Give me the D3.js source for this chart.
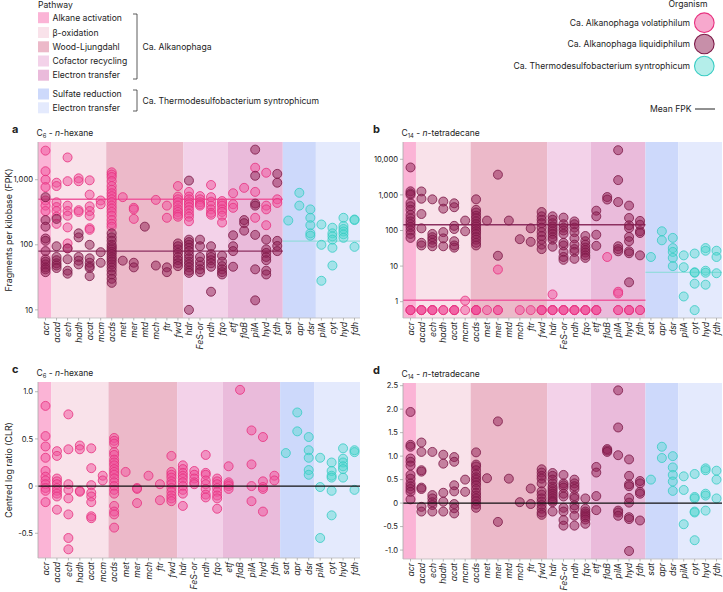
<!DOCTYPE html>
<html>
<head>
<meta charset="utf-8">
<script src="https://cdn.jsdelivr.net/npm/d3@7"></script>
<style>
  body { margin: 0; background: #fff; }
  text { font-family: Inter, "Noto Sans", sans-serif; fill: #222; }
</style>
</head>
<body>
<svg id="chart" width="723" height="592"></svg>
<script>
// ---- categories ----
const alkGenes = ["acr","acad","ech","hadh","acat","mcm","acds","met","mer","mtd","mch","ftr","fwd","hdr","FeS-or","ndh","fqo","etf","flaB","pilA","hyd","fdh"];
const alkPathway = [0,1,1,1,1,1,2,2,2,2,2,2,2,3,3,3,3,4,4,4,4,4];
const thermoGenes = ["sat","apr","dsr","pilA","cyt","hyd","fdh"];
const thermoPathway = [5,5,5,6,6,6,6];
const pathwayNames = ["Alkane activation","β-oxidation","Wood-Ljungdahl","Cofactor recycling","Electron transfer","Sulfate reduction","Electron transfer"];
const pathwayColors = ["#fbb4d6","#f9e2ea","#ecb9c9","#f3d2e9","#eabbdb","#cdd9fb","#e4eafd"];

const organisms = ["Ca. Alkanophaga volatiphilum","Ca. Alkanophaga liquidiphilum","Ca. Thermodesulfobacterium syntrophicum"];
const orgFill = ["#f0519b","#8f1f54","#4dd6ce"];
const orgStroke = ["#e8317f","#7d1a48","#38ccc3"];

// ---- panel a: FPK, n-hexane ----
const hexVol = [
  [2800,1350,1000,770,480,400,330],[900,800,450,380,330,270,210],[2200,950,400,330,280,185,105,88],
  [1050,950,340,320],[980,590,390,330,280,180,170],[480,420],
  [1300,1200,1100,950,800,700,620,560,500,450,400,360,320,280,240,210,190],[540],[370,350,250],[],[490],[400,260],
  [800,550,500,450,400,350,320,290,270],[650,550,500,450,420,380,340,300,270,230],[560,500,450,420,400],
  [830,540,460,400,350,310,290],[470,430,400,350,320,280,220],[620,420,370],[750],[1530,650,260],
  [1280,400,350,200],[500,440]
];
const hexLiq = [
  [540,240,190,125,115,80,60,55,50,45,42,38],[250,95,65,58,52,48,44],[88,60,40,36],[150,130,65,57,50],
  [100,62,53,47,44,33],[77,53],[150,130,115,100,92,85,78,72,65,60,55,50,45,40,35,30,26],[57],[53,45],[190],[48],[45,38],
  [105,95,85,75,65,58,52,47],[970,120,110,100,90,80,70,62,55,50,45,40,37,10],[120,95,65,55,48,42,38],
  [95,72,65,58,52,46,19],[68,55,47,42,38,35],[140,95,80,46],[240,215,165],[2900,1150,430,400,142,42,14],
  [120,85,75,65,58,40,35],[1230,900,115,96,80]
];
const hexThermo = [[236],[630,400],[350,260,200,150,138],[205,100,28],[183,150,135,120,90,48],[260,195,175,160,145,128],[245,240,93]];
const hexMeans = [500, 80, 114];

// ---- panel b: FPK, n-tetradecane (0 = not detected) ----
const tetVol = [
  [0,0,0],[0,0,0],[0,0,0],[0,0],[0,0,0],[1.07,0],[0,0,0,0],[0],[8,0,0],[],[0],[0],[0,0,0],[1.6,0,0,0],
  [0,0,0],[0,0,0],[0,0,0],[0,0,0],[18],[1.9,1.7,0,0],[0,0,0],[0,0]
];
const tetLiq = [
  [5900,1260,1100,1000,590,480,380,275,220,180,150,125,100,80,62],[1250,780,290,115,45,38],[750,80,65,55,45,36],
  [650,410,90,60,36],[580,450,135,110,50,38,33],[190,95],[750,380,320,260,220,180,150,130,110,95,80,65,55,45,38],
  [190],[3700,19.5],[190],[57],[115,48],[330,250,200,160,120,90,70,55,40,30],[250,200,160,130,110,95,80,65,55,35],
  [230,150,120,100,80,45,38,25,18,15],[180,150,120,90,60,40,30,25,16],[70,50,40,33,28,24,20,17],[360,250,76,37],
  [870,740],[18000,2600,630,36,30,26],[500,225,140,117,66,50,26,23,3.5],[186,145,95,85,20]
];
const tetThermo = [[18],[95,53],[62,32,25,17,10],[20,9.3,1.4],[22.5,6.7,6.5,3.2,0],[32,27,7.4,6.5,3],[27,18,6.3]];
const tetMeans = [1.1, 145, 6.7];

// ---- panel c: CLR, n-hexane (volatiphilum) ----
const clrHexVol = [
  [0.85,0.53,0.42,0.30,0.16,0.10,0.06,0.02,-0.02,-0.05,-0.17],[0.37,0.32,0.08,0.05,0.02,-0.02,-0.05,-0.08,-0.11,-0.25],
  [0.76,0.39,0.02,-0.04,-0.13,-0.30,-0.55,-0.67],[0.43,0.39,-0.05,-0.06],[0.40,0.19,0.01,-0.07,-0.11,-0.17,-0.32,-0.34],
  [0.11,0.06],[0.51,0.48,0.45,0.36,0.33,0.28,0.25,0.22,0.18,0.15,0.12,0.08,0.04,0.0,-0.04,-0.08,-0.21,-0.27,-0.30,-0.44],
  [0.15],[-0.02,-0.03,-0.18],[],[0.11],[0.02,-0.15],[0.32,0.15,0.12,0.09,0.05,0.02,-0.02,-0.06,-0.10,-0.13,-0.16],
  [0.22,0.18,0.14,0.11,0.08,0.04,0.0,-0.04,-0.08,-0.21],[0.16,0.12,0.08,0.04,0.02],[0.33,0.14,0.12,0.06,0.02,-0.03,-0.09,-0.12],
  [0.08,0.05,0.02,-0.02,-0.06,-0.10,-0.13,-0.24],[0.21,0.04,0.02,0.0,-0.03],[1.02],[0.59,0.23,0.0,-0.16],
  [0.52,0.05,-0.01,-0.03,-0.27],[0.11,0.06]
];
const clrHexThermo = [[0.35],[0.78,0.58],[0.52,0.38,0.30,0.17,0.12],[0.30,-0.01,-0.55],[0.25,0.16,0.11,0.09,-0.05,-0.31],[0.40,0.29,0.25,0.21,0.18,0.09],[0.38,0.36,-0.04]];

// ---- panel d: CLR, n-tetradecane (liquidiphilum) ----
const clrTetLiq = [
  [1.94,1.24,1.20,0.95,0.88,0.80,0.60,0.52,0.42,0.36,0.30,0.24,0.08],[1.29,1.09,0.70,0.67,0.33,0.30,-0.08,-0.18],
  [1.09,0.17,0.10,0.02,-0.04,-0.18],[1.03,0.84,0.22,0.03,-0.18],[0.98,0.88,0.38,0.25,-0.02,-0.11,-0.22],[0.50,0.24],
  [1.08,0.82,0.78,0.70,0.62,0.55,0.50,0.44,0.38,0.30,0.22,0.16,0.10,0.04,-0.03,-0.10],[0.53],[1.74,-0.40],[0.52],[0.02],
  [0.31,-0.02],[0.72,0.65,0.58,0.52,0.42,0.25,0.18,0.10,0.03,-0.04,-0.12,-0.20,-0.25],
  [0.64,0.58,0.50,0.42,0.35,0.30,0.25,0.20,0.15,0.10,0.05,0.02,-0.18],[0.60,0.42,0.38,0.33,0.20,0.14,-0.10,-0.18,-0.36,-0.48],
  [0.50,0.42,0.36,0.30,0.15,0.10,-0.05,-0.12,-0.27,-0.48],[0.10,-0.12,-0.18,-0.22,-0.26,-0.30,-0.35,-0.44],
  [0.77,0.65,0.15,-0.15],[1.15,1.12,1.09],[2.40,1.61,1.02,-0.16,-0.20,-0.27],[0.93,0.58,0.40,0.36,0.11,0.01,-0.30,-0.34,-1.02],
  [0.47,0.42,0.24,0.20,-0.37]
];
const clrTetThermo = [[0.50],[1.20,0.96],[1.00,0.76,0.60,0.46,0.26],[0.57,0.28,-0.45],[0.62,0.13,0.10,-0.18,-0.20,-0.79],[0.74,0.70,0.20,0.16,-0.16],[0.69,0.50,0.10]];

const svg = d3.select("#chart");
const R = 4.5;

function drawPanel(cfg) {
  const g = svg.append("g");
  // categories
  let cats = alkGenes.map((gn, i) => ({key: "A" + i, gene: gn, pw: alkPathway[i]}));
  if (cfg.dropMtd) cats = cats.filter(c => c.gene !== "mtd");
  cats = cats.concat(thermoGenes.map((gn, i) => ({key: "T" + i, gene: gn, pw: thermoPathway[i]})));

  const x = d3.scalePoint().domain(cats.map(c => c.key)).range([cfg.x0 + 7.5, cfg.x1 - 5.5]);
  const step = x.step();
  const y = cfg.log
    ? d3.scaleLog().domain(cfg.domain).range([cfg.y1, cfg.y0])
    : d3.scaleLinear().domain(cfg.domain).range([cfg.y1, cfg.y0]);
  const yv = v => (cfg.log && v <= 0) ? y(cfg.zeroAt) : y(v);

  // pathway bands
  d3.groups(cats, c => c.pw).forEach(([pw, list]) => {
    const first = list[0], last = list[list.length - 1];
    const xs = first === cats[0] ? cfg.x0 : x(first.key) - step / 2;
    const xe = last === cats[cats.length - 1] ? cfg.x1 : x(last.key) + step / 2;
    g.append("rect").attr("x", xs).attr("y", cfg.y0).attr("width", xe - xs).attr("height", cfg.y1 - cfg.y0)
      .attr("fill", pathwayColors[pw]);
  });
  const split = x("T0") - step / 2;

  // mean lines
  if (cfg.means) {
    const spans = [[cfg.x0, split], [cfg.x0, split], [split, cfg.x1]];
    const lw = [1.6, 1.3, 1];
    const lc = ["#ee5a9e", "#8c3060", "#86dcd6"];
    cfg.means.forEach((m, i) => {
      g.append("line").attr("x1", spans[i][0]).attr("x2", spans[i][1])
        .attr("y1", y(m)).attr("y2", y(m)).attr("stroke", lc[i]).attr("stroke-width", lw[i]);
    });
  }

  // points
  const pts = [];
  cfg.series.forEach(s => {
    s.values.forEach((vals, i) => {
      const key = (s.alk ? "A" : "T") + i;
      if (x(key) === undefined) return;
      vals.forEach(v => pts.push({key, v, org: s.org}));
    });
  });
  g.selectAll("circle.pt").data(pts).enter().append("circle")
    .attr("class", "pt")
    .attr("cx", d => x(d.key)).attr("cy", d => yv(d.v)).attr("r", R)
    .attr("fill", d => orgFill[d.org]).attr("fill-opacity", d => d.org === 2 ? 0.42 : 0.5)
    .attr("stroke", d => orgStroke[d.org]).attr("stroke-width", 0.9).attr("stroke-opacity", 0.9);

  if (!cfg.log) {
    g.append("line").attr("x1", cfg.x0).attr("x2", cfg.x1).attr("y1", y(0)).attr("y2", y(0))
      .attr("stroke", "#111").attr("stroke-width", 1.1);
  }

  // y axis
  g.append("line").attr("x1", cfg.x0).attr("x2", cfg.x0).attr("y1", cfg.y0).attr("y2", cfg.y1)
    .attr("stroke", "#aaa").attr("stroke-width", 0.8);
  cfg.ticks.forEach(t => {
    g.append("line").attr("x1", cfg.x0 - 3).attr("x2", cfg.x0).attr("y1", y(t)).attr("y2", y(t))
      .attr("stroke", "#999").attr("stroke-width", 0.7);
    g.append("text").attr("x", cfg.x0 - 5).attr("y", y(t)).attr("dy", "0.35em")
      .attr("text-anchor", "end").attr("font-size", 7.6).text(cfg.fmt(t));
  });

  // x axis
  g.append("line").attr("x1", cfg.x0).attr("x2", cfg.x1).attr("y1", cfg.y1).attr("y2", cfg.y1)
    .attr("stroke", "#bbb").attr("stroke-width", 0.8);
  cats.forEach(c => {
    g.append("line").attr("x1", x(c.key)).attr("x2", x(c.key)).attr("y1", cfg.y1).attr("y2", cfg.y1 + 2.5)
      .attr("stroke", "#999").attr("stroke-width", 0.7);
    g.append("text").attr("transform", `translate(${x(c.key) + 3.2},${cfg.y1 + 4}) rotate(-90)`)
      .attr("text-anchor", "end").attr("font-size", 8.6).attr("font-style", "italic").text(c.gene);
  });

  // titles
  g.append("text").attr("x", cfg.letterX).attr("y", cfg.y0 - 9).attr("font-size", 11).attr("font-weight", 700)
    .text(cfg.letter);
  const st = g.append("text").attr("x", cfg.x0 - 1.5).attr("y", cfg.y0 - 6).attr("font-size", 8.5);
  st.append("tspan").text("C");
  st.append("tspan").attr("font-size", 5.8).attr("dy", 2).text(cfg.carbon);
  st.append("tspan").attr("dy", -2).text(" - ");
  st.append("tspan").attr("font-style", "italic").text("n");
  st.append("tspan").text("-" + cfg.alkane);

  if (cfg.yLabel) {
    g.append("text").attr("transform", `translate(12,${(cfg.y0 + cfg.y1) / 2}) rotate(-90)`)
      .attr("text-anchor", "middle").attr("font-size", 8.8).text(cfg.yLabel);
  }
}

const fmtLog = d3.format(",");
const fmtLin = v => v === 0 ? "0" : v.toFixed(1);

drawPanel({x0: 38, x1: 360, y0: 142, y1: 318, letter: "a", letterX: 12, carbon: "6", alkane: "hexane",
  log: true, domain: [7.5, 3800], ticks: [10, 100, 1000], fmt: fmtLog, yLabel: "Fragments per kilobase (FPK)",
  means: hexMeans,
  series: [{org: 0, alk: true, values: hexVol}, {org: 1, alk: true, values: hexLiq}, {org: 2, alk: false, values: hexThermo}]});

drawPanel({x0: 403, x1: 722, y0: 142, y1: 318, letter: "b", letterX: 373, carbon: "14", alkane: "tetradecane",
  log: true, domain: [0.348, 30600], zeroAt: 0.58, ticks: [1, 10, 100, 1000, 10000], fmt: fmtLog,
  means: tetMeans,
  series: [{org: 0, alk: true, values: tetVol}, {org: 1, alk: true, values: tetLiq}, {org: 2, alk: false, values: tetThermo}]});

drawPanel({x0: 38, x1: 360, y0: 382, y1: 558, letter: "c", letterX: 12, carbon: "6", alkane: "hexane",
  log: false, domain: [-0.762, 1.103], ticks: [-0.5, 0, 0.5, 1.0], fmt: fmtLin, yLabel: "Centred log ratio (CLR)",
  dropMtd: true,
  series: [{org: 0, alk: true, values: clrHexVol}, {org: 2, alk: false, values: clrHexThermo}]});

drawPanel({x0: 403, x1: 722, y0: 383, y1: 559, letter: "d", letterX: 373, carbon: "14", alkane: "tetradecane",
  log: false, domain: [-1.19, 2.557], ticks: [-1.0, -0.5, 0, 0.5, 1.0, 1.5, 2.0, 2.5], fmt: fmtLin,
  series: [{org: 1, alk: true, values: clrTetLiq}, {org: 2, alk: false, values: clrTetThermo}]});

// ---- pathway legend ----
const leg = svg.append("g");
leg.append("text").attr("x", 38).attr("y", 8).attr("font-size", 8.6).text("Pathway");
const legY = [17.7, 32.5, 46.8, 61, 75.2, 94, 107.8];
pathwayNames.forEach((n, i) => {
  leg.append("rect").attr("x", 38).attr("y", legY[i] - 5.5).attr("width", 11).attr("height", 11).attr("fill", pathwayColors[i]);
  leg.append("text").attr("x", 52.5).attr("y", legY[i]).attr("dy", "0.35em").attr("font-size", 8.6).text(n);
});
function bracket(yTop, yBot, label) {
  leg.append("path").attr("d", `M133,${yTop}H137V${yBot}H133`).attr("fill", "none").attr("stroke", "#333").attr("stroke-width", 0.8);
  leg.append("text").attr("x", 142.5).attr("y", (yTop + yBot) / 2).attr("dy", "0.35em").attr("font-size", 8.6).text(label);
}
bracket(14, 79, "Ca. Alkanophaga");
bracket(90, 111, "Ca. Thermodesulfobacterium syntrophicum");

// ---- organism legend ----
svg.append("text").attr("x", 688).attr("y", 7).attr("text-anchor", "middle").attr("font-size", 8.6).text("Organism");
const orgY = [22.7, 44, 66];
organisms.forEach((n, i) => {
  svg.append("circle").attr("cx", 704.3).attr("cy", orgY[i]).attr("r", 9.8)
    .attr("fill", orgFill[i]).attr("fill-opacity", i === 2 ? 0.42 : 0.5)
    .attr("stroke", orgStroke[i]).attr("stroke-width", 1.1);
  svg.append("text").attr("x", 690).attr("y", orgY[i]).attr("dy", "0.35em")
    .attr("text-anchor", "end").attr("font-size", 8.6).text(n);
});
svg.append("text").attr("x", 691.5).attr("y", 109).attr("dy", "0.35em").attr("text-anchor", "end")
  .attr("font-size", 8.6).text("Mean FPK");
svg.append("line").attr("x1", 695).attr("x2", 715).attr("y1", 109).attr("y2", 109).attr("stroke", "#222").attr("stroke-width", 1);
</script>
</body>
</html>
